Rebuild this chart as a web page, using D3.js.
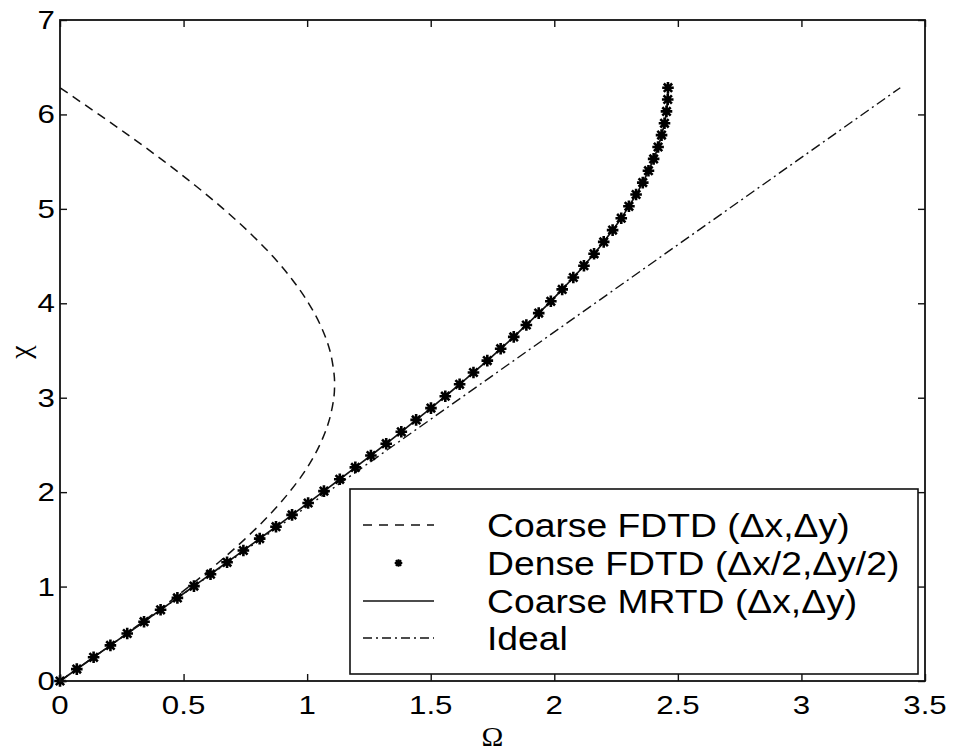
<!DOCTYPE html>
<html><head><meta charset="utf-8">
<script src="https://cdn.jsdelivr.net/npm/d3@7"></script>
<style>body{margin:0;background:#fff} svg{display:block}</style>
</head><body><svg id="c" width="954" height="751"></svg>
<script>
// ---- data ----
const xTicks = [0, 0.5, 1, 1.5, 2, 2.5, 3, 3.5];
const xTickLabels = ["0", "0.5", "1", "1.5", "2", "2.5", "3", "3.5"];
const yTicks = [0, 1, 2, 3, 4, 5, 6, 7];
const yTickLabels = ["0", "1", "2", "3", "4", "5", "6", "7"];
const xLabel = "Ω";
const yLabel = "χ";

const coarseFdtdChi = [0, 0.25, 0.5, 0.75, 1, 1.25, 1.5, 1.75, 2, 2.25, 2.5, 2.75, 3, 3.142, 3.25, 3.5, 3.75, 4, 4.25, 4.5, 4.75, 5, 5.25, 5.5, 5.75, 6, 6.283];
const coarseFdtdOmega = [0, 0.135, 0.268, 0.398, 0.522, 0.639, 0.747, 0.844, 0.928, 0.998, 1.051, 1.088, 1.108, 1.111, 1.109, 1.092, 1.057, 1.006, 0.940, 0.860, 0.766, 0.661, 0.546, 0.423, 0.293, 0.157, 0];

const denseFdtdChi = [0, 0.126, 0.251, 0.377, 0.503, 0.628, 0.754, 0.880, 1.005, 1.131, 1.257, 1.382, 1.508, 1.634, 1.759, 1.885, 2.011, 2.136, 2.262, 2.388, 2.513, 2.639, 2.765, 2.890, 3.016, 3.142, 3.267, 3.393, 3.519, 3.644, 3.770, 3.896, 4.021, 4.147, 4.273, 4.398, 4.524, 4.650, 4.775, 4.901, 5.027, 5.152, 5.278, 5.404, 5.529, 5.655, 5.781, 5.906, 6.032, 6.158, 6.283];
const denseFdtdOmega = [0, 0.068, 0.136, 0.204, 0.272, 0.340, 0.407, 0.475, 0.542, 0.609, 0.676, 0.742, 0.808, 0.874, 0.939, 1.004, 1.068, 1.132, 1.195, 1.258, 1.320, 1.381, 1.441, 1.501, 1.559, 1.617, 1.673, 1.729, 1.783, 1.836, 1.887, 1.937, 1.986, 2.032, 2.077, 2.120, 2.161, 2.200, 2.236, 2.271, 2.302, 2.331, 2.358, 2.381, 2.402, 2.420, 2.434, 2.446, 2.454, 2.459, 2.460];

const mrtdChi = [0, 0.126, 0.251, 0.377, 0.503, 0.628, 0.754, 0.880, 1.005, 1.131, 1.257, 1.382, 1.508, 1.634, 1.759, 1.885, 2.011, 2.136, 2.262, 2.388, 2.513, 2.639, 2.765, 2.890, 3.016, 3.142, 3.267, 3.393, 3.519, 3.644, 3.770, 3.896, 4.021, 4.147, 4.273, 4.398, 4.524, 4.650, 4.775, 4.901, 5.027, 5.152, 5.278, 5.404, 5.529, 5.655, 5.781, 5.906, 6.032, 6.158, 6.283];
const mrtdOmega = [0, 0.068, 0.136, 0.204, 0.272, 0.340, 0.407, 0.475, 0.542, 0.609, 0.676, 0.742, 0.808, 0.874, 0.939, 1.004, 1.068, 1.132, 1.195, 1.258, 1.320, 1.381, 1.441, 1.501, 1.559, 1.617, 1.673, 1.729, 1.783, 1.836, 1.887, 1.937, 1.986, 2.032, 2.077, 2.120, 2.161, 2.200, 2.236, 2.271, 2.302, 2.331, 2.358, 2.381, 2.402, 2.420, 2.434, 2.446, 2.454, 2.459, 2.460];

const idealOmega = [0, 3.4];
const idealChi = [0, 6.283];

const legendLabels = ["Coarse FDTD (Δx,Δy)", "Dense FDTD (Δx/2,Δy/2)", "Coarse MRTD (Δx,Δy)", "Ideal"];

// ---- layout ----
const FONT = "'Liberation Sans', Arial, Helvetica, sans-serif";
const GREEK = "'Liberation Serif', 'DejaVu Serif', serif";
const SX = 1.25; // horizontal stretch of the original tick glyphs
const L = 60, R = 925, T = 20, B = 681;
const svg = d3.select("#c");
svg.append("rect").attr("width", 954).attr("height", 751).attr("fill", "#fff");

const x = d3.scaleLinear().domain([0, 3.5]).range([L, R]);
const y = d3.scaleLinear().domain([0, 7]).range([B, T]);

const zip = (a, b) => a.map((v, i) => [v, b[i]]);

// curves
const lineGen = d3.line().x(d => x(d[0])).y(d => y(d[1]));
const smooth = d3.line().x(d => x(d[0])).y(d => y(d[1])).curve(d3.curveCatmullRom.alpha(0.5));
const plot = svg.append("g");

plot.append("path").datum(zip(idealOmega, idealChi)).attr("d", lineGen)
  .attr("fill", "none").attr("stroke", "#111").attr("stroke-width", 1.4)
  .attr("stroke-dasharray", "10,4,2,4");

plot.append("path").datum(zip(coarseFdtdOmega, coarseFdtdChi)).attr("d", smooth)
  .attr("fill", "none").attr("stroke", "#111").attr("stroke-width", 1.5)
  .attr("stroke-dasharray", "9,6");

plot.append("path").datum(zip(mrtdOmega, mrtdChi)).attr("d", smooth)
  .attr("fill", "none").attr("stroke", "#111").attr("stroke-width", 1.7);

function starPath(r) {
  const d = r * 0.72;
  return `M${-r},0L${r},0M0,${-r}L0,${r}M${-d},${-d}L${d},${d}M${-d},${d}L${d},${-d}`;
}
plot.selectAll("path.star").data(zip(denseFdtdOmega, denseFdtdChi)).enter()
  .append("path").attr("class", "star")
  .attr("transform", d => `translate(${x(d[0])},${y(d[1])})`)
  .attr("d", starPath(5.8))
  .attr("fill", "none").attr("stroke", "#000").attr("stroke-width", 2.6);

// axes: inward ticks on all four sides
const tickLen = 7;
const gB = svg.append("g").attr("transform", `translate(0,${B})`)
  .call(d3.axisBottom(x).tickValues(xTicks).tickSize(-tickLen).tickFormat(""));
const gT = svg.append("g").attr("transform", `translate(0,${T})`)
  .call(d3.axisTop(x).tickValues(xTicks).tickSize(-tickLen).tickFormat(""));
const gLft = svg.append("g").attr("transform", `translate(${L},0)`)
  .call(d3.axisLeft(y).tickValues(yTicks).tickSize(-tickLen).tickFormat(""));
const gRt = svg.append("g").attr("transform", `translate(${R},0)`)
  .call(d3.axisRight(y).tickValues(yTicks).tickSize(-tickLen).tickFormat(""));
[gB, gT, gLft, gRt].forEach(g => {
  g.selectAll(".domain").remove();
  g.selectAll("line").attr("stroke", "#111").attr("stroke-width", 1.4);
});
svg.append("rect").attr("x", L).attr("y", T).attr("width", R - L).attr("height", B - T)
  .attr("fill", "none").attr("stroke", "#111").attr("stroke-width", 1.8);

function stretchedText(px, py, str, anchor, size, sx, family) {
  return svg.append("text")
    .attr("transform", `translate(${px},${py}) scale(${sx},1)`)
    .attr("text-anchor", anchor)
    .attr("font-family", family || FONT).attr("font-size", size).attr("fill", "#000")
    .text(str);
}

// tick labels
xTicks.forEach((v, i) => stretchedText(x(v), B + 33, xTickLabels[i], "middle", 25, SX));
yTicks.forEach((v, i) => stretchedText(L - 5, y(v) + 9, yTickLabels[i], "end", 25, SX));

// axis titles
stretchedText((L + R) / 2, 746, xLabel, "middle", 28, 1.05, GREEK);
svg.append("text")
  .attr("transform", `translate(30,352) rotate(-90)`)
  .attr("text-anchor", "middle")
  .attr("font-family", GREEK).attr("font-size", 30).text(yLabel);

// legend
const lg = svg.append("g");
const lgX0 = 350, lgY0 = 489, lgX1 = 918, lgY1 = 674;
lg.append("rect").attr("x", lgX0).attr("y", lgY0).attr("width", lgX1 - lgX0).attr("height", lgY1 - lgY0)
  .attr("fill", "#fff").attr("stroke", "#111").attr("stroke-width", 1.6);
const rowY = [525, 563, 601, 638];
const sx0 = 363, sx1 = 434, tx = 487;
lg.append("line").attr("x1", sx0).attr("x2", sx1).attr("y1", rowY[0]).attr("y2", rowY[0])
  .attr("stroke", "#111").attr("stroke-width", 1.5).attr("stroke-dasharray", "9,7");
lg.append("path").attr("d", starPath(3.8))
  .attr("transform", `translate(${(sx0 + sx1) / 2},${rowY[1]})`)
  .attr("fill", "none").attr("stroke", "#000").attr("stroke-width", 2);
lg.append("line").attr("x1", sx0).attr("x2", sx1).attr("y1", rowY[2]).attr("y2", rowY[2])
  .attr("stroke", "#111").attr("stroke-width", 1.7);
lg.append("line").attr("x1", sx0).attr("x2", sx1).attr("y1", rowY[3]).attr("y2", rowY[3])
  .attr("stroke", "#111").attr("stroke-width", 1.3).attr("stroke-dasharray", "9,4,2,4");
legendLabels.forEach((t, i) => stretchedText(tx, rowY[i] + 12, t, "start", 33, 1.13));
</script>
</body></html>
